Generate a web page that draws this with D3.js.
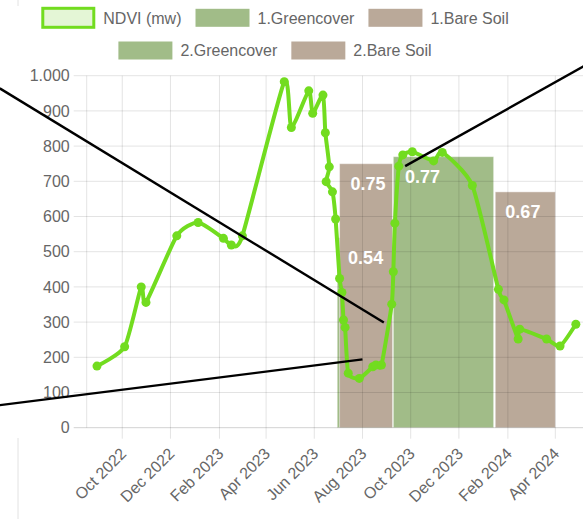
<!DOCTYPE html>
<html>
<head>
<meta charset="utf-8">
<script src="https://cdn.jsdelivr.net/npm/d3@7"></script>
<style>
  body { margin: 0; background: #fff; }
  text { font-family: "Liberation Sans", Arial, Helvetica, sans-serif; }
  .tick-label { font-size: 16px; fill: #666; }
  .legend-text { font-size: 16px; fill: #666; }
  .bar-label { font-size: 18px; font-weight: bold; fill: #fff; }
</style>
</head>
<body>
<div id="chart"></div>
<script>
// NDVI (mw) observations
const ndviDates = [
  "2022-08-30", "2022-10-04", "2022-10-25", "2022-10-31", "2022-12-09",
  "2023-01-05", "2023-02-06", "2023-02-16", "2023-03-02", "2023-04-24",
  "2023-05-03", "2023-05-25", "2023-05-30", "2023-06-12", "2023-06-15",
  "2023-06-20", "2023-06-16", "2023-06-24", "2023-06-28", "2023-07-03",
  "2023-07-06", "2023-07-08", "2023-07-10", "2023-07-14", "2023-07-28",
  "2023-08-14", "2023-08-18", "2023-08-25", "2023-09-07", "2023-09-09",
  "2023-09-11", "2023-09-16", "2023-09-21", "2023-10-03", "2023-10-30",
  "2023-11-10", "2023-12-18", "2024-01-20", "2024-01-27", "2024-02-14",
  "2024-02-16", "2024-03-21", "2024-04-07", "2024-04-27"
];
const ndviValues = [
  175, 230, 400, 356, 545,
  583, 538, 519, 545, 983,
  853, 957, 893, 945, 838,
  741, 699, 670, 593, 424,
  384, 306, 285, 155, 140,
  173, 178, 178, 351, 443,
  581, 743, 775, 784, 758,
  782, 688, 393, 363, 252,
  280, 252, 232, 294
];

// period bars (drawn in this order)
const periodNames = ["1.Greencover", "1.Bare Soil", "2.Greencover", "2.Bare Soil"];
const periodStart = ["2023-06-30", "2023-07-03", "2023-09-09", "2024-01-16"];
const periodEnd = ["2023-09-08", "2023-09-08", "2024-01-14", "2024-04-01"];
const periodValues = [540, 750, 770, 670];
const periodLabelAt = ["2023-08-05", "2023-08-08", "2023-10-16", "2024-02-20"];

// annotation lines: [date, value] pairs
const annoStart = [["2022-04-29", 964], ["2022-04-29", 64], ["2023-09-24", 743]];
const annoEnd = [["2023-08-28", 299], ["2023-08-01", 194], ["2024-05-27", 1052]];

// axes
const yTicks = [0, 100, 200, 300, 400, 500, 600, 700, 800, 900, 1000];
const xTicks = ["2022-10-01", "2022-12-01", "2023-02-01", "2023-04-01", "2023-06-01",
  "2023-08-01", "2023-10-01", "2023-12-01", "2024-02-01", "2024-04-01"];
const xDomain = ["2022-08-17", "2024-06-01"];

const width = 583;
const height = 519;

const plot = { left: 86.7, right: 603.5, top: 75.7, bottom: 427.7 };

const ndviColor = "#72dc1f";
const greenColor = "#a1bc88";
const brownColor = "#baa999";
const gridColor = "rgba(0,0,0,0.11)";

const parseDate = d3.timeParse("%Y-%m-%d");
const fmtNum = d3.formatLocale({ decimal: ",", thousands: ".", grouping: [3], currency: ["", "€"] }).format(",d");
const fmtMonth = d3.timeFormat("%b %Y");

const svg = d3.select("#chart")
  .append("svg")
  .attr("width", width)
  .attr("height", height);

const xScale = d3.scaleTime()
  .domain(xDomain.map(parseDate))
  .range([plot.left, plot.right]);

const yScale = d3.scaleLinear()
  .domain([0, 1000])
  .range([plot.bottom, plot.top]);

// faint frame line at the left edge
svg.append("line")
  .attr("x1", 18).attr("x2", 18).attr("y1", 0).attr("y2", 6)
  .attr("stroke", "#e2e2e2");
svg.append("line")
  .attr("x1", 18).attr("x2", 18).attr("y1", 438).attr("y2", height)
  .attr("stroke", "#e2e2e2");

// bars
const bars = periodNames.map((name, i) => ({
  name: name,
  start: parseDate(periodStart[i]),
  end: parseDate(periodEnd[i]),
  value: periodValues[i],
  labelAt: parseDate(periodLabelAt[i])
}));

svg.append("g")
  .selectAll("rect")
  .data(bars)
  .enter()
  .append("rect")
  .attr("x", d => xScale(d.start))
  .attr("y", d => yScale(d.value))
  .attr("width", d => xScale(d.end) - xScale(d.start))
  .attr("height", d => yScale(0) - yScale(d.value))
  .attr("fill", d => d.name.includes("Green") ? greenColor : brownColor)
  .attr("stroke", "rgba(255,255,255,0.45)")
  .attr("stroke-width", 1);

// grid lines (horizontal)
svg.append("g")
  .selectAll("line")
  .data(yTicks)
  .enter()
  .append("line")
  .attr("x1", plot.left - 13)
  .attr("x2", width)
  .attr("y1", d => yScale(d))
  .attr("y2", d => yScale(d))
  .attr("stroke", d => d === 0 ? "rgba(0,0,0,0.18)" : gridColor)
  .attr("stroke-width", 1);

// grid lines (vertical)
svg.append("line")
  .attr("x1", plot.left).attr("x2", plot.left)
  .attr("y1", plot.top).attr("y2", plot.bottom)
  .attr("stroke", gridColor);

svg.append("g")
  .selectAll("line")
  .data(xTicks.map(parseDate))
  .enter()
  .append("line")
  .attr("x1", d => xScale(d))
  .attr("x2", d => xScale(d))
  .attr("y1", plot.top)
  .attr("y2", plot.bottom + 11)
  .attr("stroke", gridColor);

// y labels
svg.append("g")
  .selectAll("text")
  .data(yTicks)
  .enter()
  .append("text")
  .attr("class", "tick-label")
  .attr("x", plot.left - 17)
  .attr("y", d => yScale(d))
  .attr("dy", "0.36em")
  .attr("text-anchor", "end")
  .text(d => fmtNum(d));

// x labels
svg.append("g")
  .selectAll("text")
  .data(xTicks.map(parseDate))
  .enter()
  .append("text")
  .attr("class", "tick-label")
  .attr("transform", d => `translate(${xScale(d) + 1}, ${plot.bottom + 23}) rotate(-45)`)
  .attr("dy", "0.36em")
  .attr("text-anchor", "end")
  .text(d => fmtMonth(d));

// NDVI line
const ndvi = ndviDates.map((d, i) => ({ date: parseDate(d), value: ndviValues[i] }));

const line = d3.line()
  .x(d => xScale(d.date))
  .y(d => yScale(d.value))
  .curve(d3.curveCardinal.tension(0.4));

svg.append("path")
  .datum(ndvi)
  .attr("fill", "none")
  .attr("stroke", ndviColor)
  .attr("stroke-width", 4)
  .attr("stroke-linejoin", "round")
  .attr("d", line);

svg.append("g")
  .selectAll("circle")
  .data(ndvi)
  .enter()
  .append("circle")
  .attr("cx", d => xScale(d.date))
  .attr("cy", d => yScale(d.value))
  .attr("r", 4.5)
  .attr("fill", ndviColor);

// bar value labels
svg.append("g")
  .selectAll("text")
  .data(bars)
  .enter()
  .append("text")
  .attr("class", "bar-label")
  .attr("x", d => xScale(d.labelAt))
  .attr("y", d => yScale(d.value) + 20)
  .attr("dy", "0.36em")
  .attr("text-anchor", "middle")
  .text(d => (d.value / 1000).toFixed(2));

// annotation lines
svg.append("g")
  .selectAll("line")
  .data(annoStart.map((s, i) => ({ s: s, e: annoEnd[i] })))
  .enter()
  .append("line")
  .attr("x1", d => xScale(parseDate(d.s[0])))
  .attr("y1", d => yScale(d.s[1]))
  .attr("x2", d => xScale(parseDate(d.e[0])))
  .attr("y2", d => yScale(d.e[1]))
  .attr("stroke", "#000")
  .attr("stroke-width", 2.4);

// Legend
const legendRows = [
  ["NDVI (mw)", "1.Greencover", "1.Bare Soil"],
  ["2.Greencover", "2.Bare Soil"]
];
const legendCenter = 275;
const boxW = 54, boxH = 18, boxGap = 8, itemGap = 14;

legendRows.forEach((row, r) => {
  const cy = 17.8 + r * 32.7;
  const g = svg.append("g");
  const items = row.map(name => {
    const item = g.append("g");
    const t = item.append("text")
      .attr("class", "legend-text")
      .attr("x", boxW + boxGap)
      .attr("y", cy)
      .attr("dy", "0.36em")
      .text(name);
    const w = boxW + boxGap + t.node().getComputedTextLength();
    if (name.startsWith("NDVI")) {
      item.append("rect")
        .attr("x", 1.5).attr("y", cy - boxH / 2 - 0.5)
        .attr("width", boxW - 3).attr("height", boxH + 1)
        .attr("fill", "#e4f6d6")
        .attr("stroke", ndviColor)
        .attr("stroke-width", 3);
    } else {
      item.append("rect")
        .attr("x", 0).attr("y", cy - boxH / 2)
        .attr("width", boxW).attr("height", boxH)
        .attr("fill", name.includes("Green") ? greenColor : brownColor);
    }
    return { item, w };
  });
  const total = d3.sum(items, d => d.w) + itemGap * (items.length - 1);
  let x = legendCenter - total / 2;
  items.forEach(d => {
    d.item.attr("transform", `translate(${x}, 0)`);
    x += d.w + itemGap;
  });
});
</script>
</body>
</html>
